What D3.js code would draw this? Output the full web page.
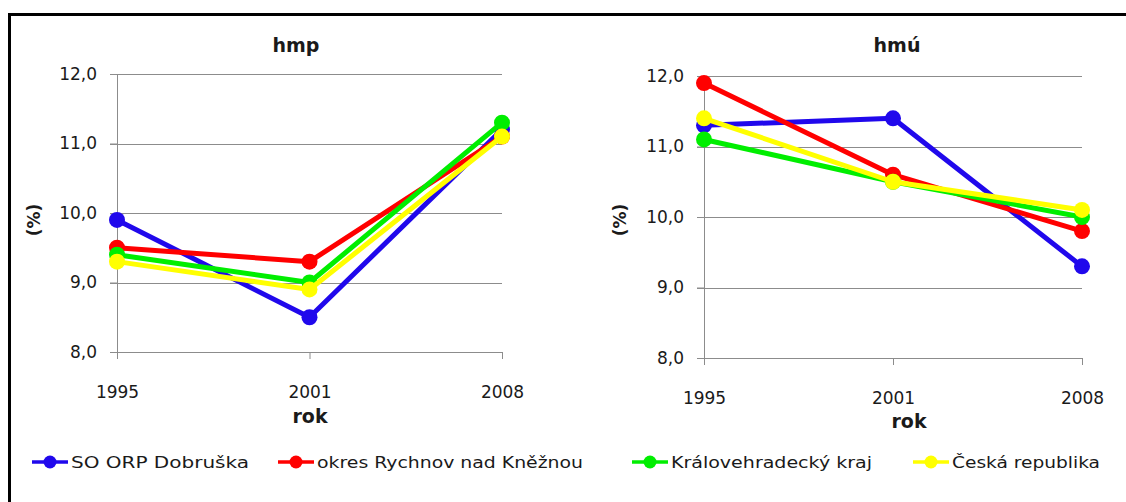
<!DOCTYPE html>
<html lang="cs">
<head>
<meta charset="utf-8">
<title>hmp / hmú</title>
<script src="https://cdn.jsdelivr.net/npm/d3@7"></script>
<style>
  body { margin: 0; background: #fff; }
  text { font-family: "DejaVu Sans", sans-serif; fill: #1a1a1a; }
</style>
</head>
<body>
<script>
// data
var years = ["1995", "2001", "2008"];
var seriesNames = ["SO ORP Dobruška", "okres Rychnov nad Kněžnou", "Královehradecký kraj", "Česká republika"];
var colors = ["#2008ec", "#ff0000", "#00ee00", "#ffff00"];
var yTicks = [8, 9, 10, 11, 12];

var hmpDobruska = [9.9, 8.5, 11.2];
var hmpRychnov  = [9.5, 9.3, 11.1];
var hmpKraj     = [9.4, 9.0, 11.3];
var hmpCR       = [9.3, 8.9, 11.1];

var hmuDobruska = [11.3, 11.4, 9.3];
var hmuRychnov  = [11.9, 10.6, 9.8];
var hmuKraj     = [11.1, 10.5, 10.0];
var hmuCR       = [11.4, 10.5, 10.1];

var w = 1126, h = 502;
var fmt = function(d){ return d3.format(".1f")(d).replace(".", ","); };

var svg = d3.select("body").append("svg")
  .attr("width", w)
  .attr("height", h);

// frame
svg.append("rect")
  .attr("x", 9.5).attr("y", 14.5)
  .attr("width", 1140).attr("height", 520)
  .attr("fill", "none")
  .attr("stroke", "#000")
  .attr("stroke-width", 3);

function drawChart(title, data, box) {
  var x = d3.scalePoint().domain(years).range([box.x0, box.x1]);
  var y = d3.scaleLinear().domain([8, 12]).range([box.y0, box.y1]);

  // gridlines
  svg.append("g").selectAll("line")
    .data(yTicks)
    .enter().append("line")
    .attr("x1", box.x0 - 7).attr("x2", box.x1)
    .attr("y1", function(d){ return Math.round(y(d)) + 0.5; })
    .attr("y2", function(d){ return Math.round(y(d)) + 0.5; })
    .attr("stroke", "#8c8c8c");

  // y axis
  var ya = svg.append("g")
    .attr("transform", "translate(" + box.x0 + ",0)")
    .call(d3.axisLeft(y).tickValues(yTicks).tickFormat(fmt).tickSize(7).tickPadding(13));
  ya.select(".domain").attr("stroke", "#8c8c8c");
  ya.selectAll(".tick line").attr("stroke", "#8c8c8c");
  ya.selectAll("text").style("font-size", "17px").style("font-family", "DejaVu Sans").attr("fill", "#1a1a1a");

  // x axis
  var xa = svg.append("g")
    .attr("transform", "translate(0," + box.y0 + ")")
    .call(d3.axisBottom(x).tickSize(7).tickPadding(box.xpad).tickSizeOuter(0));
  xa.select(".domain").attr("stroke", "#8c8c8c");
  xa.selectAll(".tick line").attr("stroke", "#8c8c8c");
  xa.selectAll("text").style("font-size", "17px").style("font-family", "DejaVu Sans").attr("fill", "#1a1a1a");

  // titles
  svg.append("text")
    .attr("x", box.tx).attr("y", 52)
    .attr("text-anchor", "middle")
    .style("font-size", "19px").style("font-weight", "bold")
    .text(title);
  svg.append("text")
    .attr("x", box.rx).attr("y", box.ry)
    .attr("text-anchor", "middle")
    .style("font-size", "19px").style("font-weight", "bold")
    .text("rok");
  svg.append("text")
    .attr("transform", "translate(" + box.px + ",220) rotate(-90)")
    .attr("text-anchor", "middle")
    .attr("dy", "0.35em")
    .style("font-size", "17px").style("font-weight", "bold")
    .text("(%)");

  var line = d3.line()
    .x(function(d, i){ return x(years[i]); })
    .y(function(d){ return y(d); });

  data.forEach(function(vals, s) {
    var g = svg.append("g");
    g.append("path")
      .attr("d", line(vals))
      .attr("fill", "none")
      .attr("stroke", colors[s])
      .attr("stroke-width", 5)
      .attr("stroke-linejoin", "round");
    g.selectAll("circle")
      .data(vals)
      .enter().append("circle")
      .attr("cx", function(d, i){ return x(years[i]); })
      .attr("cy", function(d){ return y(d); })
      .attr("r", 8)
      .attr("fill", colors[s]);
  });
}

drawChart("hmp", [hmpDobruska, hmpRychnov, hmpKraj, hmpCR],
  {x0: 117, x1: 502, y0: 352, y1: 74, xpad: 27, tx: 296, rx: 310, ry: 423, px: 34});
drawChart("hmú", [hmuDobruska, hmuRychnov, hmuKraj, hmuCR],
  {x0: 704, x1: 1082, y0: 358, y1: 76, xpad: 27, tx: 897, rx: 909, ry: 428, px: 620});

// legend
var legX = [32, 278, 632, 913];
var legW = [178, 266, 201, 148];
var legY = 462;
var leg = svg.append("g").selectAll("g")
  .data(seriesNames)
  .enter().append("g")
  .attr("transform", function(d, i){ return "translate(" + legX[i] + "," + legY + ")"; });
leg.append("line")
  .attr("x1", 0).attr("x2", 36)
  .attr("stroke", function(d, i){ return colors[i]; })
  .attr("stroke-width", 3.5);
leg.append("circle")
  .attr("cx", 18).attr("r", 6.5)
  .attr("fill", function(d, i){ return colors[i]; });
leg.append("text")
  .attr("x", 39).attr("dy", "0.36em")
  .style("font-size", "16px")
  .attr("textLength", function(d, i){ return legW[i]; })
  .attr("lengthAdjust", "spacingAndGlyphs")
  .text(function(d){ return d; });
</script>
</body>
</html>
